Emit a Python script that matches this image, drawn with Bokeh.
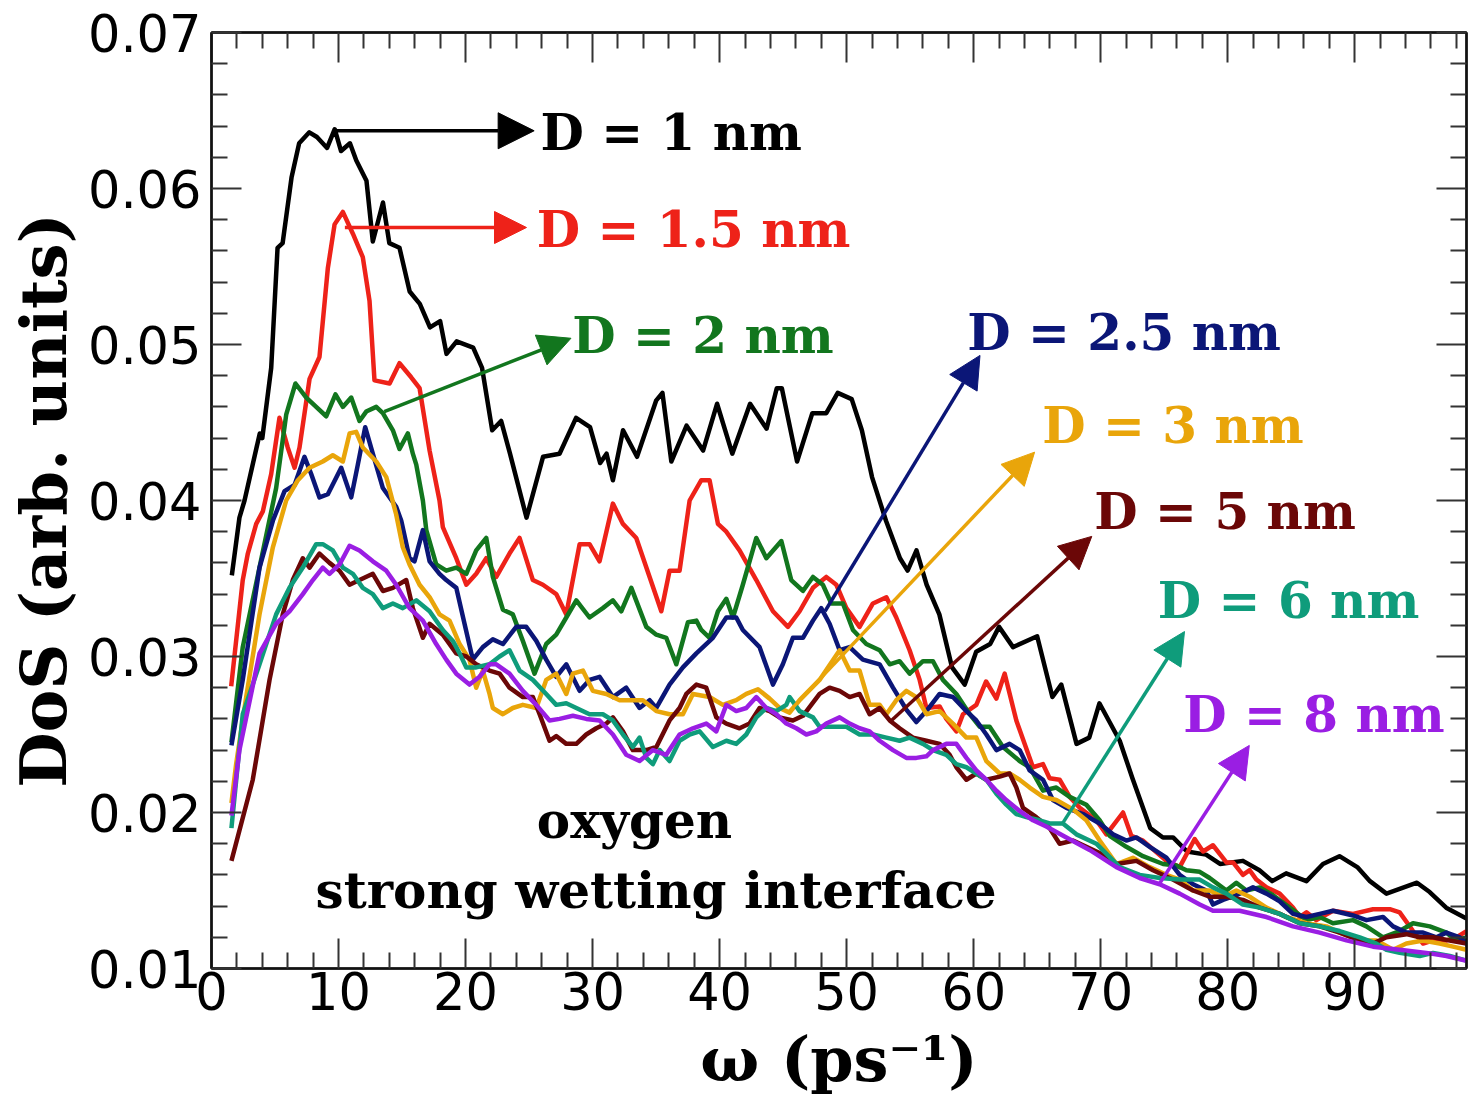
from bokeh.plotting import figure
from bokeh.models import Range1d, FixedTicker, LinearAxis, Arrow, NormalHead, Label, PrintfTickFormatter
from bokeh.embed import file_html
from bokeh.resources import INLINE

# ---------------- data (omega in ps^-1, DoS in arb. units) ----------------
d1 = [(1.6,.0352),(2.2,.0389),(2.6,.0400),(3.8,.0443),(4.0,.0440),(4.7,.0485),(5.2,.0562),(5.6,.0565),
      (6.3,.0607),(6.9,.0629),(7.7,.0636),(8.3,.0633),(9.1,.0626),(9.7,.0638),(10.2,.0624),(10.9,.0629),
      (11.4,.0618),(12.2,.0605),(12.7,.0566),(13.5,.0591),(14.0,.0565),(14.8,.0562),(15.6,.0534),(16.4,.0526),
      (17.2,.0511),(18.0,.0515),(18.5,.0494),(19.3,.0502),(20.6,.0498),(21.3,.0485),(22.1,.0445),(22.8,.0451),
      (23.5,.0430),(24.8,.0389),(26.1,.0428),(27.4,.0430),(28.7,.0453),(29.8,.0447),(30.6,.0424),(31.1,.0430),
      (31.6,.0413),(32.4,.0445),(33.5,.0428),(35.0,.0464),(35.5,.0469),(36.2,.0425),(37.4,.0448),(38.7,.0432),
      (39.8,.0462),(41.0,.0430),(42.4,.0462),(43.7,.0446),(44.5,.0472),(44.9,.0472),(46.1,.0425),(47.3,.0456),
      (48.4,.0456),(49.3,.0469),(50.4,.0465),(51.2,.0445),(52.0,.0415),(53.1,.0387),(54.2,.0363),(54.8,.0355),
      (55.5,.0368),(56.3,.0346),(57.3,.0327),(58.3,.0293),(59.3,.0282),(60.2,.0303),(61.3,.0308),(62.0,.0319),
      (63.1,.0306),(65.0,.0313),(66.2,.0274),(66.9,.0282),(68.1,.0244),(69.1,.0248),(69.9,.0270),(71.5,.0246),
      (72.5,.0222),(73.9,.0190),(74.9,.0184),(75.7,.0184),(76.8,.0175),(78.3,.0173),(79.4,.0167),(81.2,.0169),
      (82.5,.0163),(83.5,.0156),(84.6,.0161),(86.2,.0156),(87.5,.0167),(88.8,.0172),(90.2,.0165),(91.2,.0156),
      (92.5,.0148),(94.9,.0155),(95.9,.0149),(97.2,.0139),(98.8,.0132)]

d15 = [(1.55,.0281),(2.46,.0349),(2.86,.0366),(3.52,.0385),(4.04,.0393),(4.70,.0417),(5.35,.0453),(6.0,.0434),
       (6.54,.0421),(6.93,.0434),(7.72,.0478),(8.50,.0492),(9.16,.0549),(9.69,.0577),(10.34,.0585),(11.13,.0571),
       (11.91,.0556),(12.44,.0528),(12.83,.0477),(14.02,.0475),(14.80,.0488),(15.72,.0479),(16.38,.0472),(17.17,.0432),
       (17.95,.0400),(18.21,.0383),(19.27,.0363),(20.06,.0346),(20.84,.0353),(21.63,.0363),(22.42,.0351),(23.46,.0366),
       (24.25,.0376),(25.30,.0349),(26.09,.0346),(27.14,.0340),(27.93,.0327),(28.98,.0372),(29.76,.0372),(30.55,.0361),
       (31.60,.0398),(32.39,.0385),(33.44,.0376),(34.49,.0351),(35.41,.0329),(36.06,.0355),(36.85,.0355),(37.64,.0400),
       (38.56,.0413),(39.21,.0413),(39.87,.0385),(40.53,.0380),(41.57,.0368),(42.89,.0349),(44.20,.0329),(45.38,.0319),
       (46.30,.0329),(47.35,.0344),(48.40,.0351),(49.19,.0346),(49.98,.0331),(51.02,.0319),(52.07,.0334),(53.13,.0338),
       (53.91,.0325),(54.96,.0304),(55.75,.0285),(56.28,.0267),(57.32,.0268),(57.85,.0260),(58.64,.0252),(59.16,.0263),
       (60.21,.0269),(60.98,.0284),(61.79,.0273),(62.44,.0289),(63.36,.0259),(64.67,.0229),(65.46,.0231),(65.98,.0222),
       (66.77,.0221),(67.56,.0210),(68.35,.0203),(69.66,.0195),(70.45,.0186),(71.76,.0200),(72.42,.0185),(73.33,.0182),
       (75.17,.0169),(76.22,.0165),(77.40,.0183),(78.06,.0175),(78.84,.0179),(79.90,.0168),(80.42,.0168),(81.20,.0160),
       (81.73,.0163),(82.26,.0157),(83.05,.0152),(84.09,.0148),(85.14,.0139),(85.67,.0133),(86.20,.0136),(86.98,.0131),
       (88.29,.0137),(89.87,.0135),(91.44,.0138),(92.76,.0138),(93.54,.0136),(94.59,.0124),(95.38,.0116),(96.17,.0118),
       (97.22,.0118),(98.0,.0120),(98.8,.0124)]

d2 = [(1.57,.0245),(2.46,.0306),(3.78,.0357),(5.09,.0408),(5.88,.0455),(6.61,.0475),(7.46,.0466),(8.24,.0460),
      (9.03,.0454),(9.76,.0468),(10.34,.0460),(11.0,.0466),(11.65,.0451),(12.18,.0457),(12.97,.0460),(13.49,.0456),
      (14.28,.0445),(14.80,.0433),(15.46,.0443),(15.85,.0430),(16.12,.0423),(16.64,.0400),(16.91,.0381),(17.69,.0359),
      (18.48,.0355),(19.27,.0357),(20.06,.0353),(20.84,.0368),(21.63,.0376),(22.15,.0351),(22.94,.0330),(23.72,.0327),
      (24.51,.0310),(25.43,.0289),(26.35,.0308),(27.14,.0314),(27.93,.0325),(28.72,.0336),(29.76,.0325),(30.81,.0331),
      (31.60,.0336),(32.26,.0329),(33.05,.0344),(34.23,.0319),(35.02,.0314),(35.80,.0312),(36.59,.0295),(37.51,.0322),
      (38.17,.0323),(38.56,.0317),(39.21,.0312),(39.87,.0329),(40.53,.0337),(41.05,.0325),(41.83,.0346),(42.89,.0376),
      (43.68,.0363),(44.86,.0374),(45.64,.0349),(46.56,.0342),(47.35,.0351),(48.13,.0346),(48.80,.0334),(49.71,.0334),
      (50.50,.0317),(51.55,.0308),(52.60,.0304),(53.39,.0295),(54.17,.0297),(54.96,.0289),(56.01,.0297),(56.80,.0297),
      (57.58,.0285),(58.64,.0276),(59.69,.0263),(60.47,.0255),(61.26,.0255),(62.31,.0242),(63.62,.0233),(64.41,.0229),
      (65.46,.0214),(66.51,.0216),(67.56,.0210),(68.87,.0205),(69.92,.0195),(70.71,.0185),(72.02,.0178),(73.33,.0172),
      (74.91,.0167),(75.96,.0166),(76.75,.0163),(77.80,.0162),(78.58,.0158),(79.90,.0150),(80.68,.0155),(81.47,.0150),
      (82.52,.0152),(83.57,.0147),(84.88,.0139),(86.20,.0131),(87.24,.0133),(88.29,.0129),(89.87,.0131),(90.92,.0127),
      (92.23,.0120),(93.54,.0124),(94.59,.0129),(95.91,.0127),(97.22,.0123),(98.0,.0118),(98.8,.0120)]

d25 = [(1.57,.0243),(2.46,.0285),(3.78,.0357),(4.83,.0387),(5.75,.0406),(6.54,.0410),(7.32,.0428),(7.85,.0417),
       (8.50,.0402),(9.16,.0404),(10.21,.0421),(11.0,.0402),(11.52,.0423),(12.1,.0447),(12.70,.0430),(13.49,.0408),
       (14.54,.0396),(14.94,.0387),(15.59,.0363),(15.98,.0361),(16.64,.0381),(17.17,.0361),(17.95,.0353),(18.48,.0349),
       (19.27,.0344),(19.92,.0321),(20.57,.0298),(21.36,.0306),(22.15,.0311),(22.94,.0308),(23.99,.0319),(24.78,.0319),
       (25.57,.0310),(26.35,.0298),(27.14,.0287),(27.93,.0295),(28.98,.0278),(29.76,.0285),(30.55,.0287),(31.60,.0274),
       (32.65,.0280),(33.70,.0267),(34.49,.0272),(35.02,.0267),(36.06,.0282),(37.11,.0293),(38.17,.0302),(39.47,.0312),
       (40.53,.0325),(41.31,.0325),(41.83,.0317),(43.15,.0306),(44.20,.0282),(44.98,.0295),(45.77,.0312),(46.56,.0312),
       (47.35,.0323),(48.0,.0331),(48.66,.0321),(49.45,.0304),(50.24,.0306),(51.28,.0298),(52.60,.0295),(53.65,.0280),
       (54.70,.0266),(55.49,.0258),(56.28,.0265),(57.32,.0276),(58.37,.0274),(59.43,.0265),(60.21,.0259),(61.0,.0250),
       (61.79,.0240),(62.83,.0244),(63.62,.0240),(64.41,.0227),(65.46,.0221),(66.24,.0208),(67.30,.0203),(68.61,.0199),
       (69.92,.0193),(70.97,.0186),(72.02,.0182),(72.81,.0184),(73.86,.0178),(75.17,.0171),(76.22,.0160),(77.27,.0154),
       (78.32,.0150),(78.84,.0141),(79.63,.0144),(80.68,.0147),(81.99,.0152),(83.05,.0148),(84.09,.0143),(85.14,.0135),
       (86.20,.0133),(87.24,.0135),(88.29,.0137),(89.87,.0134),(90.92,.0131),(92.23,.0133),(93.02,.0127),(94.07,.0123),
       (95.38,.0123),(96.43,.0120),(97.22,.0123),(98.27,.0120),(98.8,.0116)]

d3 = [(1.57,.0206),(1.94,.0231),(2.73,.0274),(3.78,.0327),(4.83,.0370),(5.88,.0400),(6.80,.0413),(7.72,.0421),
      (8.76,.0425),(9.55,.0429),(10.34,.0425),(10.87,.0443),(11.39,.0444),(11.91,.0434),(12.97,.0425),(13.76,.0415),
      (14.54,.0391),(15.06,.0370),(15.59,.0359),(16.38,.0346),(17.17,.0338),(17.95,.0327),(18.74,.0323),(19.53,.0308),
      (20.31,.0298),(20.84,.0280),(21.36,.0291),(21.89,.0276),(22.15,.0267),(22.94,.0263),(23.72,.0267),(24.51,.0269),
      (25.57,.0267),(26.35,.0285),(27.14,.0289),(27.93,.0276),(28.45,.0289),(29.24,.0291),(30.02,.0278),(31.08,.0276),
      (32.13,.0272),(33.17,.0272),(33.96,.0272),(35.02,.0265),(36.06,.0263),(37.11,.0263),(37.90,.0276),(39.21,.0274),
      (40.26,.0269),(41.31,.0272),(42.10,.0276),(43.02,.0279),(43.94,.0273),(44.72,.0267),(45.51,.0264),(46.30,.0272),
      (47.87,.0285),(49.45,.0304),(50.24,.0291),(51.02,.0291),(51.81,.0269),(52.60,.0269),(53.13,.0263),(53.91,.0272),
      (54.70,.0278),(55.49,.0274),(56.28,.0263),(57.32,.0265),(58.37,.0257),(59.43,.0248),(60.21,.0248),(61.0,.0233),
      (62.05,.0225),(62.83,.0225),(63.62,.0221),(64.41,.0216),(65.46,.0210),(66.51,.0208),(67.82,.0202),(68.87,.0195),
      (69.92,.0182),(71.24,.0167),(72.54,.0171),(73.86,.0165),(75.17,.0160),(76.22,.0157),(77.27,.0150),(78.58,.0150),
      (79.63,.0146),(80.68,.0150),(81.73,.0146),(83.05,.0139),(84.62,.0133),(86.20,.0129),(87.77,.0127),(88.82,.0123),
      (90.39,.0118),(91.71,.0118),(93.02,.0112),(94.07,.0116),(95.38,.0118),(96.69,.0116),(97.74,.0114),(98.8,.0112)]

d5 = [(1.57,.0169),(3.25,.0221),(4.57,.0285),(5.61,.0327),(6.40,.0349),(7.19,.0363),(7.72,.0357),(8.50,.0366),
      (9.29,.0360),(10.08,.0355),(10.87,.0346),(11.65,.0349),(12.70,.0353),(13.49,.0342),(14.28,.0344),(15.33,.0349),
      (15.85,.0331),(16.64,.0312),(17.17,.0321),(18.21,.0314),(19.27,.0302),(20.06,.0300),(20.84,.0295),(21.89,.0291),
      (22.68,.0289),(23.46,.0280),(24.51,.0274),(25.30,.0274),(25.83,.0263),(26.61,.0246),(27.14,.0249),(27.93,.0244),
      (28.72,.0244),(29.50,.0250),(30.29,.0254),(31.08,.0257),(31.60,.0261),(32.39,.0252),(33.17,.0240),(34.23,.0240),
      (35.02,.0242),(36.06,.0259),(36.85,.0267),(37.38,.0276),(38.17,.0282),(38.95,.0280),(39.74,.0261),(40.53,.0257),
      (41.57,.0254),(42.36,.0257),(43.15,.0267),(43.94,.0265),(44.72,.0261),(45.77,.0259),(46.56,.0262),(47.87,.0276),
      (48.66,.0280),(49.45,.0278),(50.24,.0274),(51.02,.0276),(51.81,.0263),(52.60,.0267),(53.39,.0259),(54.17,.0254),
      (55.22,.0248),(56.28,.0246),(57.32,.0244),(58.11,.0237),(58.64,.0229),(59.43,.0221),(60.21,.0225),(61.0,.0221),
      (62.05,.0223),(62.83,.0225),(63.36,.0216),(63.88,.0203),(64.93,.0197),(65.98,.0190),(66.77,.0180),(67.82,.0182),
      (68.87,.0178),(69.92,.0174),(71.24,.0167),(72.81,.0169),(74.12,.0163),(75.69,.0157),(77.27,.0150),(78.58,.0146),
      (79.90,.0146),(81.20,.0144),(82.52,.0139),(84.09,.0135),(85.67,.0129),(87.24,.0127),(88.82,.0123),(90.39,.0118),
      (91.44,.0116),(92.50,.0120),(94.07,.0122),(95.12,.0120),(96.17,.0120),(97.48,.0118),(98.8,.0116)]

d6 = [(1.57,.0190),(2.46,.0263),(3.78,.0295),(5.09,.0327),(6.14,.0344),(7.19,.0357),(8.24,.0372),(8.76,.0372),
      (9.55,.0368),(10.34,.0357),(11.13,.0353),(11.91,.0344),(12.70,.0340),(13.49,.0331),(14.28,.0334),(15.06,.0331),
      (16.12,.0336),(17.17,.0329),(18.21,.0317),(19.0,.0310),(19.53,.0302),(20.06,.0293),(20.84,.0293),(21.89,.0295),
      (22.68,.0300),(23.46,.0304),(24.25,.0291),(25.30,.0285),(26.35,.0276),(27.14,.0269),(27.93,.0270),(28.72,.0267),
      (29.76,.0263),(30.81,.0263),(31.60,.0259),(32.39,.0250),(33.17,.0242),(33.70,.0248),(34.23,.0235),(34.75,.0231),
      (35.28,.0240),(36.06,.0233),(36.85,.0246),(37.64,.0250),(38.43,.0252),(39.47,.0242),(40.53,.0246),(41.31,.0244),
      (42.10,.0250),(42.89,.0261),(43.68,.0267),(44.46,.0265),(45.25,.0269),(45.51,.0274),(46.30,.0265),(47.35,.0261),
      (47.87,.0255),(48.92,.0255),(49.98,.0255),(51.02,.0250),(52.07,.0250),(53.13,.0248),(54.17,.0246),(54.96,.0248),
      (56.01,.0244),(56.80,.0240),(57.85,.0237),(58.64,.0231),(59.43,.0229),(60.21,.0225),(61.0,.0221),(61.79,.0212),
      (62.57,.0205),(63.36,.0199),(64.15,.0197),(65.20,.0195),(65.98,.0193),(67.03,.0193),(68.09,.0186),(69.66,.0180),
      (71.50,.0165),(73.07,.0160),(74.65,.0158),(76.22,.0157),(77.80,.0157),(78.84,.0152),(79.90,.0148),(81.20,.0141),
      (82.52,.0139),(84.09,.0135),(85.67,.0129),(87.24,.0127),(88.82,.0124),(90.39,.0120),(91.71,.0116),(92.50,.0112),
      (93.54,.0110),(95.12,.0108),(96.17,.0110),(97.48,.0108),(98.8,.0105)]

d8 = [(1.57,.0198),(2.20,.0240),(3.78,.0302),(5.09,.0321),(6.14,.0329),(7.19,.0340),(7.98,.0349),(8.76,.0357),
      (9.29,.0353),(10.08,.0359),(10.87,.0371),(11.65,.0368),(12.70,.0361),(13.76,.0355),(14.54,.0346),(15.59,.0331),
      (16.64,.0323),(17.69,.0308),(18.48,.0298),(19.27,.0289),(20.31,.0282),(21.10,.0287),(21.89,.0295),(22.42,.0295),
      (23.46,.0289),(24.51,.0278),(25.57,.0269),(26.61,.0259),(27.40,.0260),(28.45,.0262),(29.50,.0260),(30.55,.0259),
      (31.60,.0250),(32.65,.0237),(33.70,.0233),(34.75,.0240),(35.80,.0237),(36.85,.0250),(37.90,.0254),(38.95,.0257),
      (39.74,.0252),(40.53,.0269),(41.31,.0265),(42.10,.0267),(42.89,.0274),(43.68,.0267),(44.46,.0263),(45.25,.0257),
      (46.04,.0254),(46.83,.0250),(47.61,.0252),(48.40,.0257),(49.45,.0261),(50.24,.0257),(51.02,.0254),(51.81,.0252),
      (52.60,.0246),(53.65,.0240),(54.70,.0235),(55.49,.0235),(56.28,.0236),(56.80,.0240),(57.85,.0244),(58.64,.0244),
      (59.43,.0235),(60.21,.0227),(61.0,.0221),(61.79,.0214),(62.57,.0208),(63.62,.0201),(64.67,.0195),(65.72,.0191),
      (67.30,.0184),(69.13,.0176),(71.24,.0165),(73.07,.0158),(74.65,.0154),(76.22,.0148),(77.80,.0141),(78.84,.0137),
      (79.90,.0137),(80.94,.0137),(83.05,.0133),(85.14,.0127),(87.24,.0123),(89.35,.0118),(91.44,.0114),(93.54,.0112),
      (95.64,.0110),(97.22,.0108),(98.8,.0105)]

series_names = ["D = 1 nm", "D = 1.5 nm", "D = 2 nm", "D = 2.5 nm", "D = 3 nm", "D = 5 nm", "D = 6 nm", "D = 8 nm"]
series_data = [d1, d15, d2, d25, d3, d5, d6, d8]
series_colors = ["#000000", "#ee2219", "#12761e", "#0b1677", "#e9a50a", "#6b0707", "#0f9c7b", "#9a1ee3"]

# annotation anchors (arrow tail on the curve -> arrow head, label position), in data units
arrow_tails = [(9.7, .0637), (10.5, .0575), (13.6, .0457), (48.3, .0329), (45.5, .0265), (53.4, .0258), (67.0, .0193), (74.6, .0154)]
arrow_heads = [(25.4, .0637), (24.8, .0575), (28.3, .0504), (60.5, .0493), (64.8, .0431), (69.3, .0377), (76.6, .0316), (81.7, .0243)]
label_pos = [(25.9, .0636), (25.6, .0574), (28.4, .0506), (59.5, .0508), (65.4, .0448), (69.5, .0393), (74.5, .0336), (76.5, .0263)]

x_ticks = [0, 10, 20, 30, 40, 50, 60, 70, 80, 90]
y_ticks = [0.01, 0.02, 0.03, 0.04, 0.05, 0.06, 0.07]

SERIF = "DejaVu Serif"
SANS = "DejaVu Sans"

p = figure(width=1473, height=1112, x_range=Range1d(0, 98.8), y_range=Range1d(0.01, 0.07),
           output_backend="svg", toolbar_location=None,
           min_border_left=211, min_border_right=7, min_border_top=32, min_border_bottom=144)
p.grid.visible = False
p.outline_line_color = "#000000"
p.outline_line_width = 2
p.background_fill_color = "white"
p.border_fill_color = "white"

x_minor = [v / 10 for v in range(0, 1000, 20) if v % 100 != 0]
y_minor = [round(0.01 + k * 0.002, 4) for k in range(31) if k % 5 != 0]


def style_axis(ax, ticks, minor, fmt, show_labels):
    ax.ticker = FixedTicker(ticks=ticks, minor_ticks=minor)
    ax.formatter = PrintfTickFormatter(format=fmt)
    ax.major_tick_in = 30
    ax.major_tick_out = 0
    ax.minor_tick_in = 16
    ax.minor_tick_out = 0
    ax.major_tick_line_width = 2
    ax.minor_tick_line_width = 2
    ax.major_tick_line_color = "#333333"
    ax.minor_tick_line_color = "#333333"
    ax.axis_line_width = 2.5
    ax.axis_line_color = "#111111"
    if show_labels:
        ax.major_label_text_font = SANS
        ax.major_label_text_font_size = "51px"
        ax.major_label_text_color = "#000000"
    else:
        ax.major_label_text_font_size = "0px"
        ax.major_label_text_alpha = 0


xa = p.xaxis[0]
ya = p.yaxis[0]
style_axis(xa, x_ticks, x_minor, "%d", True)
style_axis(ya, y_ticks, y_minor, "%.2f", True)
xa.major_label_standoff = 3
ya.major_label_standoff = 10

xa.axis_label = "ω (ps⁻¹)"
xa.axis_label_text_font = SERIF
xa.axis_label_text_font_style = "bold"
xa.axis_label_text_font_size = "62px"
xa.axis_label_text_color = "#000000"
xa.axis_label_standoff = 10

ya.axis_label = "DoS (arb. units)"
ya.axis_label_text_font = SERIF
ya.axis_label_text_font_style = "bold"
ya.axis_label_text_font_size = "64px"
ya.axis_label_text_color = "#000000"
ya.axis_label_standoff = 4

top = LinearAxis()
right = LinearAxis()
style_axis(top, x_ticks, x_minor, "%d", False)
style_axis(right, y_ticks, y_minor, "%.2f", False)
p.add_layout(top, "above")
p.add_layout(right, "right")

for data, col in zip(series_data, series_colors):
    xs = [pt[0] for pt in data]
    ys = [pt[1] for pt in data]
    p.line(xs, ys, line_color=col, line_width=4.5, line_join="round")

for i, (name, col) in enumerate(zip(series_names, series_colors)):
    (x0, y0), (x1, y1) = arrow_tails[i], arrow_heads[i]
    size = 36 if i == 0 else 32
    p.add_layout(Arrow(end=NormalHead(size=size, fill_color=col, line_color=col, line_width=1),
                       x_start=x0, y_start=y0, x_end=x1, y_end=y1,
                       line_color=col, line_width=3.5))
    lx, ly = label_pos[i]
    p.add_layout(Label(x=lx, y=ly, text=name, text_color=col, text_font=SERIF,
                       text_font_style="bold", text_font_size="50px",
                       text_align="left", text_baseline="middle"))

p.add_layout(Label(x=33.3, y=0.0195, text="oxygen", text_color="#000000", text_font=SERIF,
                   text_font_style="bold", text_font_size="50px", text_align="center", text_baseline="middle"))
p.add_layout(Label(x=35.0, y=0.0150, text="strong wetting interface", text_color="#000000", text_font=SERIF,
                   text_font_style="bold", text_font_size="50px", text_align="center", text_baseline="middle"))

open("out.html", "w").write(file_html(p, INLINE))
